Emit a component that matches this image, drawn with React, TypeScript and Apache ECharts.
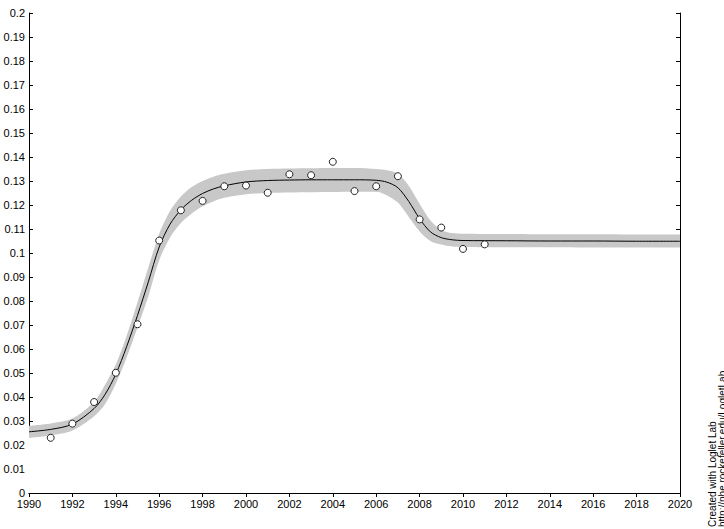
import React, { useEffect, useRef } from "react";
import * as echarts from "echarts";

// Observed data points (year, value)
const pointYears = [1991, 1992, 1993, 1994, 1995, 1996, 1997, 1998, 1999, 2000, 2001, 2002, 2003, 2004, 2005, 2006, 2007, 2008, 2009, 2010, 2011];
const pointValues = [0.023, 0.0289, 0.0379, 0.0501, 0.0703, 0.1052, 0.1178, 0.1217, 0.1278, 0.1281, 0.1251, 0.1328, 0.1324, 0.138, 0.1258, 0.1278, 0.132, 0.114, 0.1106, 0.1017, 0.1036];

// Fitted curve and its confidence band
const curveYears = [1990, 1991, 1992, 1993, 1993.5, 1994, 1994.5, 1995, 1995.5, 1996, 1996.5, 1997, 1997.5, 1998, 1998.5, 1999, 2000, 2001, 2002, 2003, 2004, 2005, 2006, 2006.5, 2007, 2007.5, 2008, 2008.5, 2009, 2009.5, 2010, 2012, 2014, 2016, 2018, 2020];
const curveCenter = [0.0255, 0.0265, 0.0287, 0.0352, 0.041, 0.0495, 0.061, 0.074, 0.088, 0.1025, 0.112, 0.118, 0.122, 0.1248, 0.1267, 0.128, 0.1296, 0.1302, 0.1304, 0.1305, 0.1305, 0.1305, 0.1303, 0.1295, 0.1272, 0.1215, 0.1143, 0.1088, 0.1064, 0.1055, 0.1052, 0.1051, 0.105, 0.105, 0.1049, 0.1049];
const curveLower = [0.023, 0.024, 0.026, 0.032, 0.037, 0.0455, 0.0565, 0.069, 0.082, 0.097, 0.1065, 0.1125, 0.1165, 0.1195, 0.1215, 0.123, 0.1245, 0.125, 0.1252, 0.1253, 0.1254, 0.1255, 0.1255, 0.124, 0.121, 0.115, 0.109, 0.105, 0.1035, 0.1027, 0.1025, 0.1024, 0.1024, 0.1023, 0.1023, 0.1023];
const curveUpper = [0.028, 0.029, 0.031, 0.038, 0.045, 0.0535, 0.0655, 0.0795, 0.094, 0.108, 0.1175, 0.1235, 0.1275, 0.13, 0.1318, 0.133, 0.1345, 0.135, 0.1352, 0.1353, 0.1354, 0.1354, 0.135, 0.1345, 0.133, 0.128, 0.1205, 0.1135, 0.1095, 0.1083, 0.108, 0.1079, 0.1078, 0.1078, 0.1077, 0.1077];

const FONT = "'Liberation Sans', Arial, Helvetica, sans-serif";

export default function App() {
  const ref = useRef<HTMLDivElement>(null);
  useEffect(() => {
    if (!ref.current) return;
    const chart = echarts.init(ref.current, undefined, { renderer: "svg" });
    const axisLine = { show: true, lineStyle: { color: "#000", width: 1 } };
    const tick = { show: true, inside: true, length: 4, lineStyle: { color: "#000" } };
    const label = { color: "#000", fontFamily: FONT, fontSize: 11 };
    const fmt = (v: number) => String(+Number(v).toFixed(2));
    chart.setOption({
      animation: false,
      backgroundColor: "#fff",
      grid: { left: 29, top: 13, right: 44, bottom: 36, containLabel: false },
      xAxis: [
        {
          type: "value", min: 1990, max: 2020, interval: 2, position: "bottom",
          axisLine, axisTick: tick, splitLine: { show: false },
          axisLabel: { ...label, margin: 5, formatter: (v: number) => String(v) },
        },
        {
          type: "value", min: 1990, max: 2020, interval: 2, position: "top",
          axisLine, axisTick: tick, splitLine: { show: false }, axisLabel: { show: false },
        },
      ],
      yAxis: [
        {
          type: "value", min: 0, max: 0.2, interval: 0.01, position: "left",
          axisLine, axisTick: tick, splitLine: { show: false },
          axisLabel: { ...label, margin: 4, formatter: fmt },
        },
        {
          type: "value", min: 0, max: 0.2, interval: 0.01, position: "right",
          axisLine, axisTick: tick, splitLine: { show: false }, axisLabel: { show: false },
        },
      ],
      series: [
        {
          type: "line", name: "bandUpper", symbol: "none", smooth: 0.3,
          data: curveYears.map((y, i) => [y, curveUpper[i]]),
          lineStyle: { width: 0, opacity: 0 },
          areaStyle: { color: "rgb(200,200,200)", opacity: 1, origin: "start" },
          silent: true, z: 1,
        },
        {
          type: "line", name: "bandLower", symbol: "none", smooth: 0.3,
          data: curveYears.map((y, i) => [y, curveLower[i]]),
          lineStyle: { width: 0, opacity: 0 },
          areaStyle: { color: "#fff", opacity: 1, origin: "start" },
          silent: true, z: 1,
        },
        {
          type: "line", name: "fit", symbol: "none", smooth: 0.3,
          data: curveYears.map((y, i) => [y, curveCenter[i]]),
          lineStyle: { color: "#000", width: 1 }, z: 2,
        },
        {
          type: "scatter", name: "data", symbol: "circle", symbolSize: 7,
          data: pointYears.map((y, i) => [y, pointValues[i]]),
          itemStyle: { color: "#fff", borderColor: "#222", borderWidth: 1, opacity: 1 },
          z: 3,
        },
      ],
      graphic: [
        {
          type: "text", x: 712, y: 527, rotation: Math.PI / 2,
          style: { text: "Created with Loglet Lab", fill: "#000", font: `10px ${FONT}`, textAlign: "left", textVerticalAlign: "middle" },
        },
        {
          type: "text", x: 722, y: 527, rotation: Math.PI / 2,
          style: { text: "http://phe.rockefeller.edu/LogletLab", fill: "#000", font: `10px ${FONT}`, textAlign: "left", textVerticalAlign: "middle" },
        },
      ],
    });
    return () => chart.dispose();
  }, []);
  return (
    <div
      ref={ref}
      style={{ position: "absolute", left: 0, top: 0, width: 724, height: 529, background: "#fff" }}
    />
  );
}
